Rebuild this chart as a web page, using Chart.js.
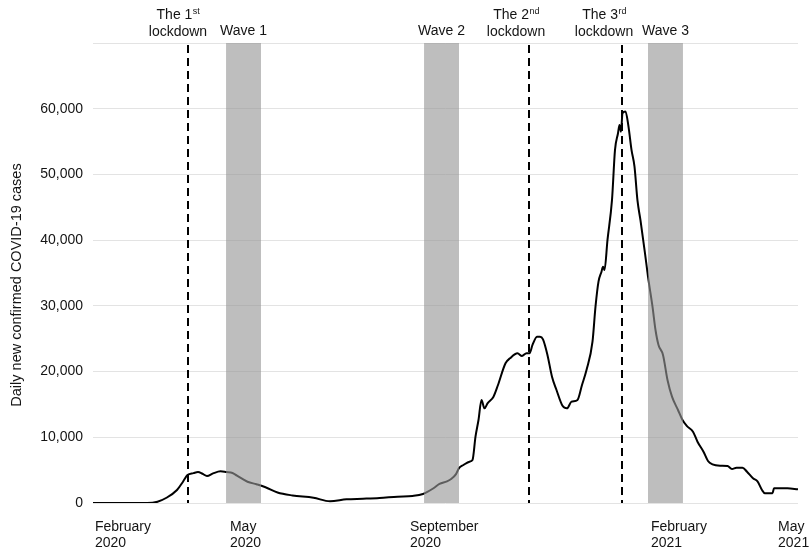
<!DOCTYPE html>
<html><head><meta charset="utf-8">
<script src="https://cdn.jsdelivr.net/npm/chart.js@4/dist/chart.umd.min.js"></script>
<style>html,body{margin:0;padding:0;background:#fff}#wrap{width:811px;height:552px}</style>
</head><body><div id="wrap"><canvas id="c" width="811" height="552"></canvas></div>
<script>
// days since 20 Jan 2020
const days = [0,36,43,49,56,60,63,67,70,73,76,80,85,89,93,96,103,109,115,123,133,147,158,169,180,191,203,213,220,227,231,236,239,242,244,247,251,253,255,257,259,261,263,267,270,275,278,283,286,289,291,293,296,298,300,303,306,309,313,316,319,323,326,329,333,335,337,339,340,341,343,346,348,350,351,352,353,355,357,359,361,363,365,368,370,373,375,377,380,383,386,390,393,396,400,403,407,410,413,418,423,426,429,433,436,440,443,446,448,453,454,463,470];
const cases = [0,0,200,800,1980,3240,4260,4550,4720,4450,4110,4500,4820,4700,4570,4150,3240,2850,2400,1600,1150,800,250,560,650,760,960,1070,1370,2240,2900,3300,3700,4400,5300,5780,6290,6540,10100,12630,15680,14400,15170,16180,17960,21260,22020,22780,22370,22800,22780,24050,25300,25310,24900,22500,19220,17200,14800,14410,15420,15680,17960,20240,24550,29880,33680,35200,35960,35460,40030,46120,53730,56270,57530,56510,59310,59560,57270,53730,51190,46000,43000,38000,34450,29880,26330,24050,22530,18720,16180,14150,12630,11700,10850,9330,7810,6390,5890,5680,5630,5170,5370,5370,4760,3760,3300,1980,1480,1480,2240,2240,2080];

const xTickDays = [1.3, 91.3, 211.3, 372, 456.7];
const xTickLabels = [["February","2020"],["May","2020"],["September","2020"],["February","2021"],["May","2021"]];
const yTickValues = [0,10000,20000,30000,40000,50000,60000,70000];

const lockdownDays = [63.3, 290.7, 352.7];
const lockdownPrefix = ["The 1","The 2","The 3"];
const lockdownSup = ["st","nd","rd"];
const lockdownShift = [-10,-13,-18];

const waveStart = [88.7, 220.7, 370];
const waveEnd = [112, 244, 393.3];
const waveLabels = ["Wave 1","Wave 2","Wave 3"];

const FAM = '"Liberation Sans", Arial, sans-serif';
const F14 = '14px ' + FAM;
const FSUP = '9px ' + FAM;
const TXT = '#141414';

const overlay = {
  id: 'overlay',
  afterDatasetsDraw(chart) {
    const {ctx, chartArea: a, scales: {x}} = chart;
    ctx.save();
    ctx.fillStyle = 'rgba(150,150,150,0.62)';
    waveStart.forEach((s, i) => {
      const x0 = x.getPixelForValue(s), x1 = x.getPixelForValue(waveEnd[i]);
      ctx.fillRect(x0, a.top, x1 - x0, a.bottom - a.top);
    });
    ctx.strokeStyle = '#000';
    ctx.lineWidth = 2;
    ctx.setLineDash([8, 5]);
    lockdownDays.forEach(d => {
      const px = Math.round(x.getPixelForValue(d));
      ctx.beginPath();
      ctx.moveTo(px, a.top + 2);
      ctx.lineTo(px, a.bottom);
      ctx.stroke();
    });
    ctx.restore();
  },
  afterDraw(chart) {
    const {ctx, scales: {x}} = chart;
    ctx.save();
    ctx.fillStyle = TXT;
    ctx.textBaseline = 'alphabetic';
    ctx.font = F14;
    ctx.textAlign = 'center';
    waveStart.forEach((s, i) => {
      const cx = (x.getPixelForValue(s) + x.getPixelForValue(waveEnd[i])) / 2;
      ctx.fillText(waveLabels[i], cx, 35);
    });
    lockdownDays.forEach((d, i) => {
      const cx = x.getPixelForValue(d) + lockdownShift[i];
      ctx.font = F14;
      const w1 = ctx.measureText(lockdownPrefix[i]).width;
      ctx.font = FSUP;
      const w2 = ctx.measureText(lockdownSup[i]).width;
      const x0 = cx - (w1 + w2) / 2;
      ctx.textAlign = 'left';
      ctx.font = F14;
      ctx.fillText(lockdownPrefix[i], x0, 19);
      ctx.font = FSUP;
      ctx.fillText(lockdownSup[i], x0 + w1 + 0.5, 14);
      ctx.font = F14;
      ctx.textAlign = 'center';
      ctx.fillText('lockdown', cx, 36);
    });
    ctx.translate(17, 285);
    ctx.rotate(-Math.PI / 2);
    ctx.textAlign = 'center';
    ctx.textBaseline = 'middle';
    ctx.font = '14.5px ' + FAM;
    ctx.fillText('Daily new confirmed COVID-19 cases', 0, 0);
    ctx.restore();
  }
};

new Chart(document.getElementById('c'), {
  type: 'line',
  data: {
    datasets: [{
      data: days.map((d, i) => ({x: d, y: cases[i]})),
      borderColor: '#000',
      borderWidth: 2,
      pointRadius: 0,
      cubicInterpolationMode: 'monotone',
      fill: false
    }]
  },
  options: {
    responsive: false,
    animation: false,
    devicePixelRatio: 1,
    layout: {padding: {top: 43, right: 13, bottom: 0, left: 0}},
    plugins: {legend: {display: false}, tooltip: {enabled: false}},
    scales: {
      x: {
        type: 'linear', min: 0, max: 470,
        grid: {display: false, drawTicks: false},
        border: {display: false},
        afterBuildTicks: s => { s.ticks = xTickDays.map(v => ({value: v})); },
        afterFit: s => { s.height = 49; s.paddingLeft = 0; s.paddingRight = 0; },
        ticks: {
          autoSkip: false, maxRotation: 0, minRotation: 0, align: 'start',
          padding: 16, color: TXT,
          font: {family: FAM, size: 14, lineHeight: 1.15},
          callback: (v, i) => xTickLabels[i]
        }
      },
      y: {
        min: 0, max: 70000,
        grid: {color: '#e3e3e3', lineWidth: 1, drawTicks: false},
        border: {display: false},
        afterBuildTicks: s => { s.ticks = yTickValues.map(v => ({value: v})); },
        afterFit: s => { s.width = 93; s.paddingTop = 0; s.paddingBottom = 0; },
        ticks: {
          padding: 10, color: TXT,
          font: {family: FAM, size: 14},
          callback: v => v === 70000 ? '' : v.toLocaleString('en-US')
        }
      }
    }
  },
  plugins: [overlay]
});
</script>
</body></html>
